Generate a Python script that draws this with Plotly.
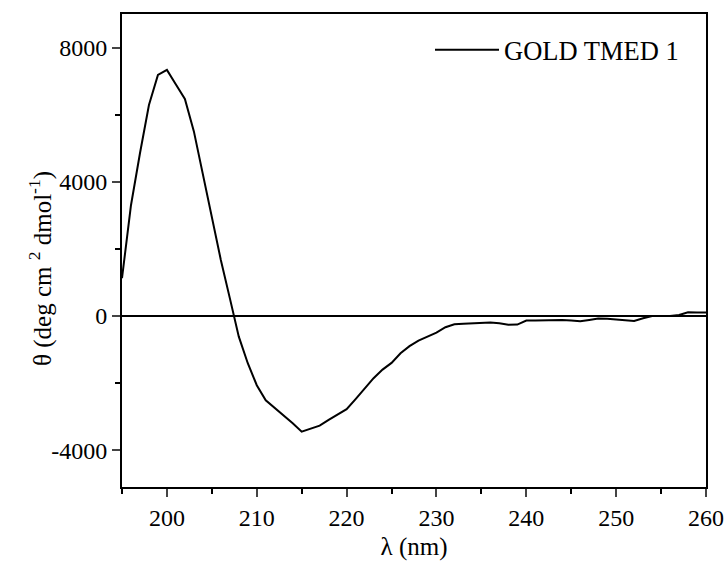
import plotly.graph_objects as go

wavelength = list(range(195, 261))
theta = [1124, 3300, 4850, 6288, 7183, 7332, 6900, 6468, 5500, 4200,
         2950, 1669, 530, -617, -1410, -2066, -2514, -2743, -2951, -3200,
         -3449, -3360, -3270, -3100, -2950, -2781, -2480, -2170, -1857, -1600,
         -1400, -1113, -900, -735, -620, -500, -338, -249, -230, -219,
         -210, -199, -220, -265, -258, -139, -135, -128, -122, -119,
         -140, -159, -120, -75, -85, -100, -125, -149, -70, -5,
         0, 0, 30, 110, 100, 100]
series_name = "GOLD TMED 1"
x_ticks = [200, 210, 220, 230, 240, 250, 260]
y_ticks = [-4000, 0, 4000, 8000]
y_ticktext = ["-4000", "0", "4000", "8000"]

FONT = "Liberation Serif"
L, R, T, B = 122, 20, 14, 74
W, H = 726, 561
pw, ph = W - L - R, H - T - B

fig = go.Figure()
fig.add_trace(go.Scatter(x=wavelength, y=theta, mode="lines", name=series_name,
                         line=dict(color="black", width=2)))

fig.update_layout(
    width=W, height=H,
    margin=dict(l=L, r=R, t=T, b=B, autoexpand=False),
    plot_bgcolor="white", paper_bgcolor="white",
    font=dict(family=FONT, size=24, color="black"),
    showlegend=True,
    legend=dict(x=1 - 22 / pw, y=1 - 12 / ph, xanchor="right", yanchor="top",
                bgcolor="rgba(0,0,0,0)", font=dict(size=26.5, family=FONT),
                itemwidth=64),
    annotations=[dict(text="θ (deg cm <sup>2</sup> dmol<sup>-1</sup>)",
                      xref="paper", yref="paper",
                      x=(40 - L) / pw, y=(H - B - 269) / ph,
                      xanchor="center", yanchor="middle", textangle=-90,
                      showarrow=False, font=dict(size=25, family=FONT))],
)
fig.update_xaxes(range=[195, 260], tickvals=x_ticks, ticks="outside", ticklen=8,
                 tickwidth=2, showline=True, linewidth=2, linecolor="black",
                 mirror=True, showgrid=False, zeroline=False, automargin=False,
                 minor=dict(dtick=5, ticks="outside", ticklen=5, tickwidth=2, tickcolor="black"),
                 title=dict(text="λ (nm)", font=dict(size=25), standoff=12))
fig.update_yaxes(range=[-5100, 9000], tickvals=y_ticks, ticktext=y_ticktext,
                 ticks="outside", ticklen=8,
                 tickwidth=2, showline=True, linewidth=2, linecolor="black",
                 mirror=True, showgrid=False, zeroline=True, zerolinecolor="black",
                 zerolinewidth=2, automargin=False,
                 minor=dict(dtick=2000, ticks="outside", ticklen=5, tickwidth=2, tickcolor="black"))

fig.write_html("out.html")
